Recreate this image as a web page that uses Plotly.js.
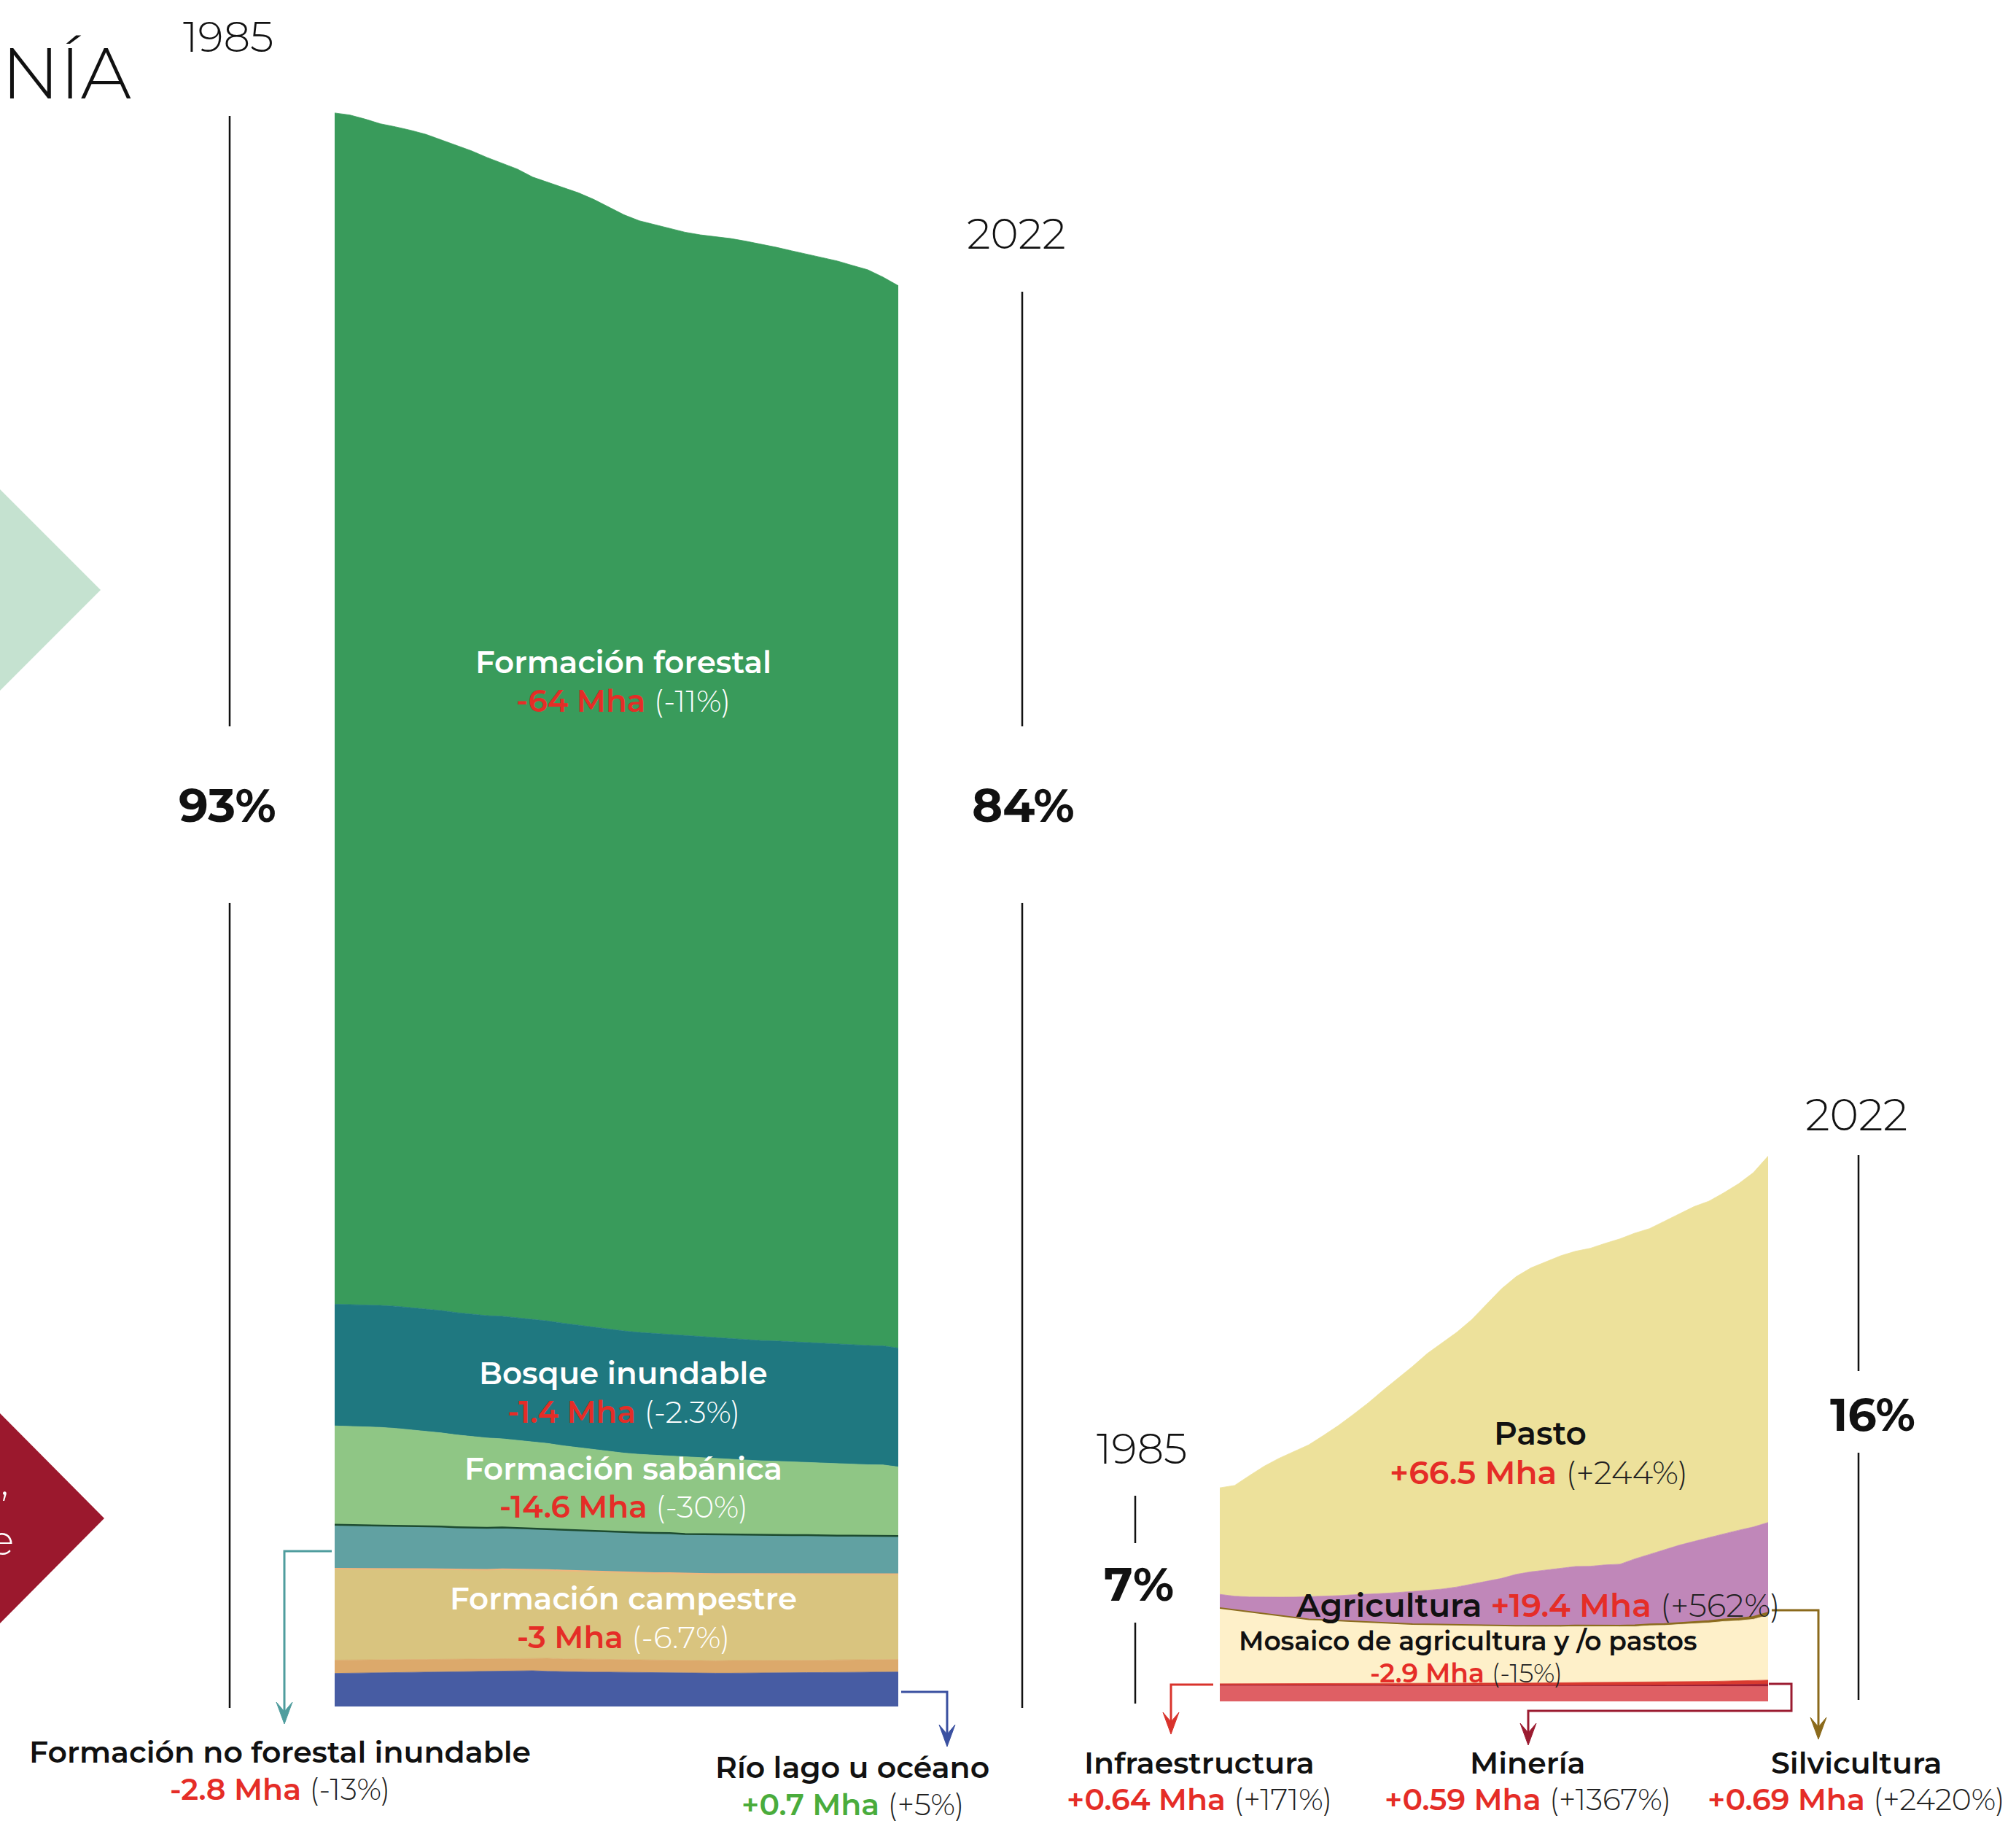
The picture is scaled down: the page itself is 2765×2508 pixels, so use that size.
<!DOCTYPE html>
<html>
<head>
<meta charset="utf-8">
<script src="https://cdn.plot.ly/plotly-3.0.1.min.js"></script>
<style>html,body{margin:0;padding:0;background:#fff;}#chart{width:2765px;height:2508px;}</style>
</head>
<body>
<div id="chart"></div>
<script>
// ---------- DATA (Mha) ----------
const years = [1985,1986,1987,1988,1989,1990,1991,1992,1993,1994,1995,1996,1997,1998,1999,2000,2001,2002,2003,2004,2005,2006,2007,2008,2009,2010,2011,2012,2013,2014,2015,2016,2017,2018,2019,2020,2021,2022];

// Natural cover (left chart)
const rioLago = [16.2,16.3,16.4,16.5,16.5,16.6,16.7,16.7,16.8,16.9,17.0,17.1,17.3,17.5,17.2,17.0,16.9,16.8,16.8,16.7,16.6,16.5,16.5,16.4,16.4,16.3,16.3,16.4,16.4,16.5,16.5,16.6,16.6,16.7,16.7,16.8,16.9,16.9];
const otraNatural = [6.5,6.5,6.4,6.5,6.4,6.4,6.3,6.4,6.3,6.3,6.2,6.3,6.2,6.1,6.4,6.3,6.3,6.2,6.2,6.2,6.2,6.1,6.2,6.1,6.1,6.1,6.2,6.1,6.1,6.1,6.1,6.1,6.0,6.1,6.1,6.1,6.1,6.1];
const campestre = [44.8,44.7,44.6,44.5,44.4,44.3,44.3,44.1,44.0,43.9,43.8,43.8,43.6,43.5,43.3,43.3,43.2,43.1,43.0,42.9,42.8,42.8,42.7,42.6,42.5,42.5,42.4,42.4,42.3,42.3,42.2,42.2,42.1,42.0,42.0,41.9,41.9,41.8];
const noForestalInund = [21.5,21.4,21.4,21.2,21.1,21.0,20.9,20.9,20.7,20.6,20.5,20.5,20.3,20.2,20.1,20.0,19.9,19.9,19.8,19.7,19.6,19.6,19.5,19.4,19.4,19.3,19.3,19.2,19.2,19.1,19.1,19.0,19.0,18.9,18.9,18.8,18.8,18.7];
const sabanica = [48.4,48.3,48.2,48.0,47.8,47.2,46.6,45.9,45.2,44.5,44.0,43.4,42.9,42.3,41.8,41.1,40.5,39.9,39.2,38.6,38.3,38.1,37.8,37.6,37.3,37.1,36.8,36.6,36.3,36.1,35.9,35.7,35.5,35.2,35.0,34.8,34.6,33.8];
const bosqueInund = [59.6,59.6,59.7,59.7,59.8,59.8,59.8,59.9,59.9,59.9,59.9,60.0,60.0,60.0,60.0,60.0,59.9,59.9,59.9,59.8,59.7,59.6,59.5,59.4,59.3,59.2,59.1,59.0,58.9,58.9,58.8,58.7,58.6,58.6,58.5,58.4,58.3,58.2];
const forestal = [583.4,582.6,580.7,578.7,577.6,576.6,575.3,573.3,571.7,569.7,567.2,564.6,562.6,559.4,557.6,556.3,554.6,552.3,549.3,546.6,544.4,543.0,541.8,540.5,539.7,539.4,538.8,537.9,537.0,535.6,534.3,532.9,531.8,530.4,528.5,526.8,523.4,520.3];

// Anthropic use (right chart)
const otraAntropica = [4.1,4.1,4.1,4.1,4.0,4.0,4.0,4.0,4.0,4.0,4.0,4.0,3.9,3.9,3.9,3.9,3.9,3.9,3.9,3.9,3.9,3.9,3.9,3.9,3.9,3.8,3.8,3.8,3.8,3.8,3.8,3.8,3.8,3.8,3.8,3.8,3.8,3.8];
const mineria = [0.04,0.04,0.05,0.05,0.06,0.06,0.07,0.07,0.08,0.08,0.09,0.09,0.10,0.10,0.11,0.11,0.12,0.12,0.13,0.14,0.15,0.16,0.17,0.18,0.20,0.22,0.24,0.26,0.28,0.30,0.33,0.36,0.39,0.42,0.46,0.51,0.57,0.63];
const infraestructura = [0.37,0.38,0.39,0.40,0.41,0.42,0.43,0.44,0.46,0.47,0.48,0.50,0.51,0.53,0.54,0.56,0.57,0.59,0.61,0.62,0.64,0.66,0.68,0.70,0.72,0.74,0.76,0.78,0.80,0.82,0.84,0.86,0.88,0.90,0.93,0.95,0.98,1.01];
const mosaico = [19.4,18.9,18.4,17.8,17.4,16.9,16.5,16.3,16.1,15.9,15.7,15.5,15.3,15.2,15.1,15.0,14.9,14.8,14.7,14.6,14.5,14.5,14.4,14.4,14.4,14.4,14.4,14.3,14.3,14.5,14.5,14.7,14.8,15.0,15.3,15.4,15.7,16.6];
const silvicultura = [0.03,0.03,0.03,0.04,0.04,0.05,0.05,0.06,0.06,0.07,0.08,0.08,0.09,0.10,0.11,0.12,0.13,0.14,0.15,0.16,0.18,0.19,0.21,0.23,0.25,0.27,0.29,0.31,0.33,0.36,0.38,0.41,0.44,0.48,0.53,0.59,0.65,0.72];
const agricultura = [3.5,3.5,3.8,4.3,4.8,5.3,5.8,6.0,6.4,6.8,7.1,7.5,8.0,8.3,8.7,9.1,9.7,10.5,11.3,12.1,13.2,13.8,14.3,14.7,15.1,15.2,15.5,15.7,17.0,17.9,19.0,19.9,20.7,21.3,21.9,22.6,23.0,23.1];
const pasto = [27.3,28.4,31.1,33.6,35.6,37.3,38.9,41.3,43.6,46.2,49.0,52.0,54.8,57.7,60.7,63.1,65.3,67.8,71.0,74.2,76.3,77.9,79.0,80.1,80.8,81.5,82.4,83.4,83.5,83.5,84.2,84.9,85.8,86.3,87.4,88.8,90.8,93.9];

// ---------- LAYOUT HELPERS ----------
const W = 2765, H = 2508;
const FONT = "Montserrat, Inter, 'Noto Sans', sans-serif";
const RED = '#e52d27';
function fx(x){ return x / W; }
function fy(y){ return 1 - y / H; }

function area(name, y, color, group, xa, ya, lineColor, lineWidth){
  return {
    type: 'scatter', mode: 'lines', name: name, x: years, y: y,
    stackgroup: group, xaxis: xa, yaxis: ya,
    fillcolor: color,
    line: {color: lineColor || color, width: lineWidth === undefined ? 0.8 : lineWidth, shape: 'linear'},
    hoverinfo: 'skip'
  };
}

const traces = [
  area('Río lago u océano', rioLago, '#475ca3', 'L', 'x', 'y'),
  area('Otra formación natural', otraNatural, '#dca96b', 'L', 'x', 'y'),
  area('Formación campestre', campestre, '#d9c47f', 'L', 'x', 'y', '#efb67e', 2),
  area('Formación no forestal inundable', noForestalInund, '#61a1a2', 'L', 'x', 'y'),
  area('Formación sabánica', sabanica, '#8fc685', 'L', 'x', 'y'),
  area('Bosque inundable', bosqueInund, '#1f7880', 'L', 'x', 'y'),
  area('Formación forestal', forestal, '#399b5b', 'L', 'x', 'y'),

  area('Otra área antrópica', otraAntropica, '#df5f64', 'R', 'x2', 'y2'),
  area('Minería', mineria, '#9b1c31', 'R', 'x2', 'y2'),
  area('Infraestructura', infraestructura, '#d93a2f', 'R', 'x2', 'y2'),
  area('Mosaico de agricultura y/o pastos', mosaico, '#fef0c9', 'R', 'x2', 'y2'),
  area('Silvicultura', silvicultura, '#8c6c1f', 'R', 'x2', 'y2', '#8c6c1f', 2),
  area('Agricultura', agricultura, '#c087b9', 'R', 'x2', 'y2'),
  area('Pasto', pasto, '#ede19b', 'R', 'x2', 'y2')
];
// dark boundary line on top of the "no forestal inundable" band
traces[3].line = {color: '#1d4b30', width: 2.5};

// ---------- ANNOTATIONS ----------
const ann = [];
function T(x, y, text, size, color, weight, xanchor){
  ann.push({xref:'paper', yref:'paper', x: fx(x), y: fy(y), xanchor: xanchor || 'center', yanchor: 'middle',
    showarrow: false, text: text, font: {family: FONT, size: size, color: color, weight: weight}});
}
function val(v, p, pColor, vColor){
  return '<span style="color:' + (vColor || RED) + ';font-weight:600">' + v + '</span> ' +
         '<span style="color:' + pColor + ';font-weight:300">' + p + '</span>';
}

// title fragment and diamond texts
T(0, 100, 'NÍA', 98, '#111', 300, 'left');
T(14, 2030, 'o,', 56, '#ffffff', 300, 'right');
T(21, 2112, 'de', 56, '#ffffff', 300, 'right');

// years and shares - left
T(313, 50, '1985', 58, '#111', 300);
T(1394, 321, '2022', 58, '#111', 300);
T(312, 1104, '93%', 64, '#111', 700);
T(1403, 1104, '84%', 64, '#111', 700);

// labels inside left chart
const LX = 855;
T(LX, 908, 'Formación forestal', 42, '#ffffff', 600);
T(LX, 961, val('-64 Mha', '(-11%)', '#ffffff'), 42, '#ffffff', 600);
T(LX, 1883, 'Bosque inundable', 42, '#ffffff', 600);
T(LX, 1936, val('-1.4 Mha', '(-2.3%)', '#ffffff'), 42, '#ffffff', 600);
T(LX, 2014, 'Formación sabánica', 42, '#ffffff', 600);
T(LX, 2066, val('-14.6 Mha', '(-30%)', '#ffffff'), 42, '#ffffff', 600);
T(LX, 2192, 'Formación campestre', 42, '#ffffff', 600);
T(LX, 2245, val('-3 Mha', '(-6.7%)', '#ffffff'), 42, '#ffffff', 600);

// bottom labels - left
T(384, 2402, 'Formación no forestal inundable', 41, '#111', 600);
T(384, 2453, val('-2.8 Mha', '(-13%)', '#222'), 41, '#111', 600);
T(1169, 2423, 'Río lago u océano', 41, '#111', 600);
T(1169, 2474, val('+0.7 Mha', '(+5%)', '#222', '#4aac3c'), 41, '#111', 600);

// right chart
T(1566, 1986, '1985', 58, '#111', 300);
T(1562, 2172, '7%', 64, '#111', 700);
T(2546, 1528, '2022', 60, '#111', 300);
T(2568, 1940, '16%', 62, '#111', 700);
T(2112, 1965, 'Pasto', 44, '#111', 600);
T(2110, 2019, val('+66.5 Mha', '(+244%)', '#222'), 44, '#111', 600);
T(2109, 2201, 'Agricultura ' + val('+19.4 Mha', '(+562%)', '#222'), 44, '#111', 600);
T(2013, 2250, 'Mosaico de agricultura y /o pastos', 36, '#111', 600);
T(2011, 2294, val('-2.9 Mha', '(-15%)', '#222'), 36, '#111', 600);
T(1645, 2417, 'Infraestructura', 41, '#111', 600);
T(1645, 2467, val('+0.64 Mha', '(+171%)', '#222'), 41, '#111', 600);
T(2095, 2417, 'Minería', 41, '#111', 600);
T(2095, 2467, val('+0.59 Mha', '(+1367%)', '#222'), 41, '#111', 600);
T(2546, 2417, 'Silvicultura', 41, '#111', 600);
T(2546, 2467, val('+0.69 Mha', '(+2420%)', '#222'), 41, '#111', 600);

// ---------- SHAPES ----------
const shapes = [];
function poly(pts, close){
  let s = '';
  pts.forEach((p, i) => { s += (i ? ' L ' : 'M ') + fx(p[0]).toFixed(6) + ',' + fy(p[1]).toFixed(6); });
  return s + (close ? ' Z' : '');
}
function vline(x, y0, y1){
  shapes.push({type:'line', xref:'paper', yref:'paper', x0: fx(x), x1: fx(x), y0: fy(y0), y1: fy(y1),
    line: {color: '#111', width: 2.5}});
}
function arrow(pts, color){
  const tip = pts[pts.length - 1];
  const body = pts.slice(0, -1).concat([[tip[0], tip[1] - 14]]);
  shapes.push({type:'path', xref:'paper', yref:'paper', path: poly(body, false),
    line: {color: color, width: 3}, fillcolor: 'rgba(0,0,0,0)'});
  shapes.push({type:'path', xref:'paper', yref:'paper',
    path: poly([[tip[0] - 11, tip[1] - 30], [tip[0], tip[1] - 17], [tip[0] + 11, tip[1] - 30], [tip[0], tip[1]]], true),
    line: {color: color, width: 1}, fillcolor: color});
}

// diamonds on the left edge
shapes.push({type:'path', xref:'paper', yref:'paper', path: poly([[-2,669],[138,809],[-2,949]], true),
  fillcolor: '#c5e2d0', line: {width: 0}, layer: 'below'});
shapes.push({type:'path', xref:'paper', yref:'paper', path: poly([[-2,1936],[143,2082],[-2,2228]], true),
  fillcolor: '#9b182d', line: {width: 0}, layer: 'below'});

// vertical guide lines
vline(315, 159, 996); vline(315, 1238, 2342);
vline(1402, 400, 996); vline(1402, 1238, 2342);
vline(1557, 2051, 2116); vline(1557, 2225, 2336);
vline(2549, 1584, 1880); vline(2549, 1992, 2331);

// connector arrows
arrow([[455,2127],[390,2127],[390,2364]], '#4f9d9e');
arrow([[1236,2320],[1299,2320],[1299,2395]], '#3a50a0');
arrow([[1664,2310],[1606,2310],[1606,2378]], '#d9332c');
arrow([[2426,2309],[2457,2309],[2457,2346],[2096,2346],[2096,2393]], '#9b1b30');
arrow([[2430,2208],[2494,2208],[2494,2385]], '#8b6a1c');

const hidden = {visible: false, fixedrange: true};
const layout = {
  width: W, height: H,
  margin: {l: 0, r: 0, t: 0, b: 0, pad: 0},
  paper_bgcolor: '#ffffff', plot_bgcolor: 'rgba(0,0,0,0)',
  showlegend: false,
  xaxis: Object.assign({}, hidden, {domain: [459 / W, 1232 / W], range: [1985, 2022]}),
  yaxis: Object.assign({}, hidden, {domain: [168 / H, 2408 / H], range: [0, 800]}),
  xaxis2: Object.assign({}, hidden, {domain: [1673 / W, 2425 / W], range: [1985, 2022], anchor: 'y2'}),
  yaxis2: Object.assign({}, hidden, {domain: [175 / H, 1008 / H], range: [0, 833 / 5.35], anchor: 'x2'}),
  annotations: ann,
  shapes: shapes
};

Plotly.newPlot('chart', traces, layout, {displayModeBar: false, staticPlot: true});
</script>
</body>
</html>
